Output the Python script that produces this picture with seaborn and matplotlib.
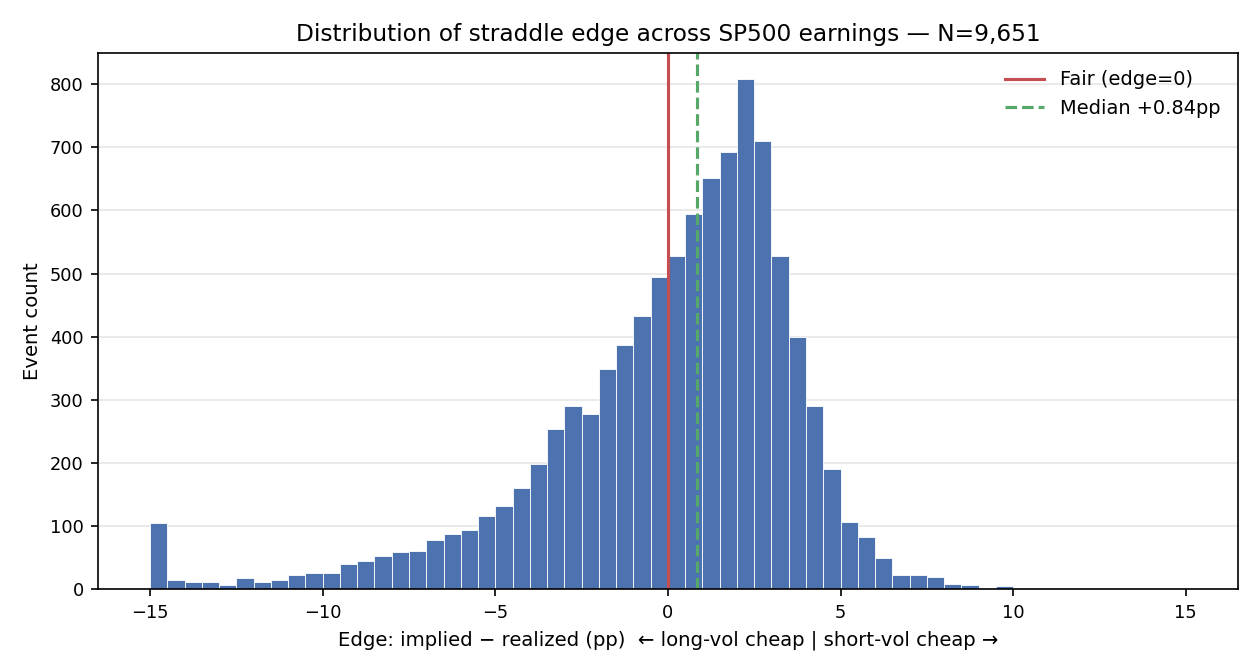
"""
Histogram of straddle edge (implied - realized move) across SP500 earnings events
"""

import numpy as np
import pandas as pd
import matplotlib
matplotlib.use("Agg")
import matplotlib.pyplot as plt
import seaborn as sns

# bin left edges (pp), 0.5pp wide, and event counts
bin_lefts = [-15.0, -14.5, -14.0, -13.5, -13.0, -12.5, -12.0, -11.5, -11.0, -10.5,
             -10.0, -9.5, -9.0, -8.5, -8.0, -7.5, -7.0, -6.5, -6.0, -5.5,
             -5.0, -4.5, -4.0, -3.5, -3.0, -2.5, -2.0, -1.5, -1.0, -0.5,
             0.0, 0.5, 1.0, 1.5, 2.0, 2.5, 3.0, 3.5, 4.0, 4.5,
             5.0, 5.5, 6.0, 6.5, 7.0, 7.5, 8.0, 8.5, 9.0, 9.5,
             10.0, 10.5, 11.0, 11.5, 12.0, 12.5, 13.0, 13.5, 14.0, 14.5]
counts = [104, 14, 11, 11, 7, 18, 11, 14, 22, 25,
          25, 40, 44, 52, 58, 61, 78, 88, 93, 116,
          132, 160, 198, 254, 290, 278, 348, 386, 432, 495,
          527, 594, 652, 693, 809, 710, 527, 399, 290, 191,
          107, 82, 50, 22, 22, 19, 8, 7, 0, 5,
          0, 0, 1, 1, 0, 0, 0, 0, 0, 0]
n_events = 9651
median_edge = 0.84
bin_width = 0.5

df = pd.DataFrame({"edge": np.array(bin_lefts) + bin_width / 2, "count": counts})

plt.rcParams["font.family"] = ["DejaVu Sans"]
fig, ax = plt.subplots(figsize=(8.4, 4.48), dpi=150)

sns.histplot(data=df, x="edge", weights="count",
             binwidth=bin_width, binrange=(-15, 15),
             color="#4C72B0", alpha=1.0, edgecolor="white", linewidth=0.4, ax=ax)

ax.axvline(0, color="#C44E52", linewidth=1.5, label="Fair (edge=0)")
ax.axvline(median_edge, color="#55A868", linewidth=1.5, linestyle="--",
           label=f"Median +{median_edge:.2f}pp")

ax.set_axisbelow(True)
ax.grid(axis="y", color="#e6e6e6", linewidth=0.8)
ax.set_title(f"Distribution of straddle edge across SP500 earnings \u2014 N={n_events:,}", fontsize=11.2)
ax.set_xlabel("Edge: implied \u2212 realized (pp)  \u2190 long-vol cheap | short-vol cheap \u2192", fontsize=9.4)
ax.set_ylabel("Event count", fontsize=9.4)
ax.tick_params(labelsize=8.5)
ax.legend(loc="upper right", frameon=False, fontsize=9.3)

plt.tight_layout()
plt.savefig("out.png", dpi=150)
